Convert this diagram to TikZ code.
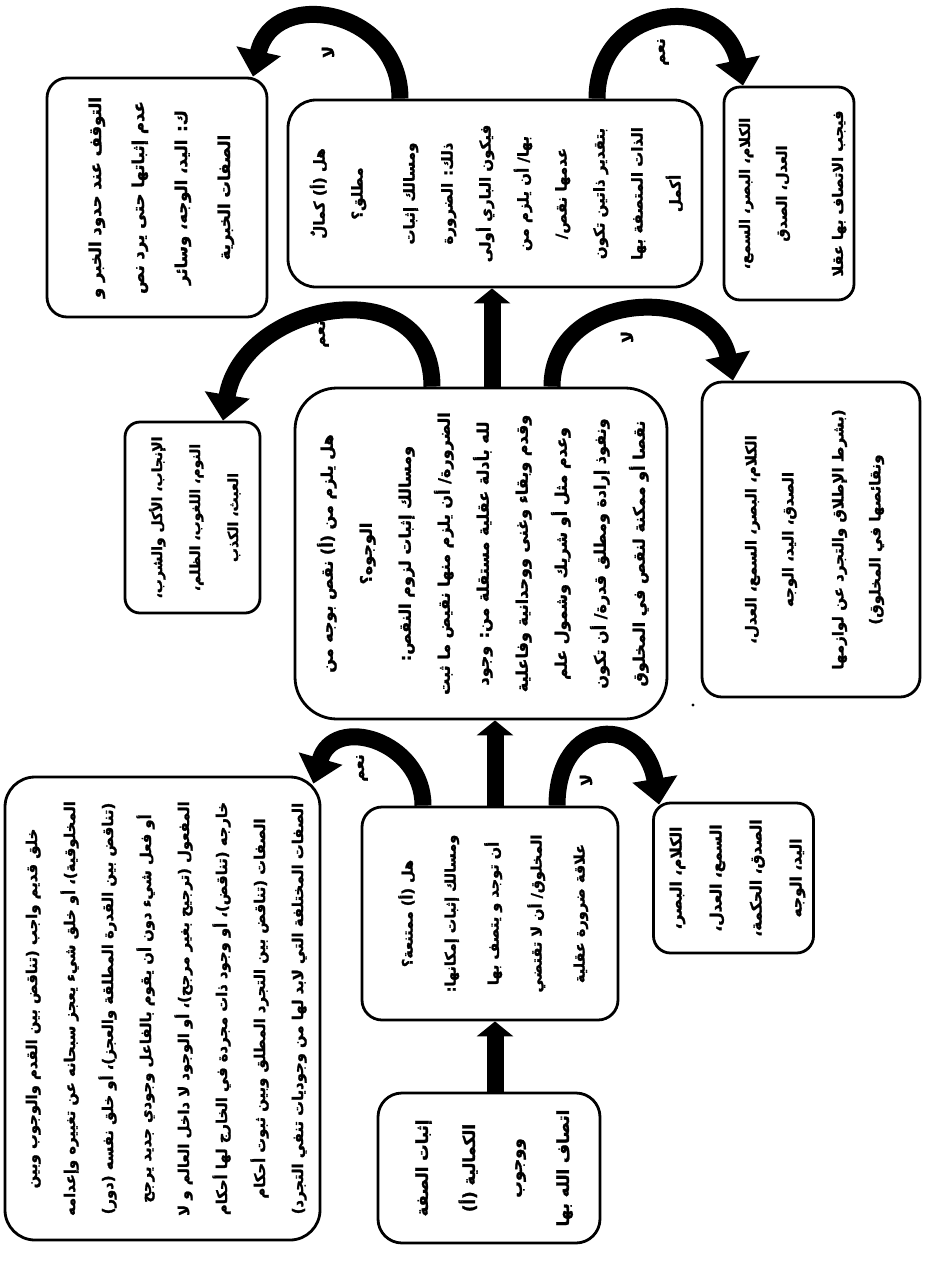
\documentclass[tikz,border=0pt]{standalone}
\usepackage{fontspec}
\usepackage{graphicx}
\usetikzlibrary{arrows.meta,calc}
\TeXXeTstate=1
\newfontfamily\arabicfont[Script=Arabic,BoldFeatures={FakeBold=1.6}]{DejaVu Sans}
% one right-to-left line
\newcommand\AR[1]{\beginR #1\endR}
% rows of a box, set vertically (reading downwards); #1 size, #2 line spacing, #3 rows
\newcommand\vlines[3]{\rotatebox{90}{\fontsize{#1}{#2}\selectfont\begin{tabular}{@{}c@{}}#3\end{tabular}}}

\tikzset{
  box/.style={draw, line width=2.8pt, fill=white, inner sep=0pt, rounded corners=#1,
              font=\arabicfont\bfseries},
  box/.default=20pt,
  flow/.style={line width=17pt, -{Triangle[width=36pt,length=15pt]}},
  turn/.style={line width=17pt, -{Triangle[width=44pt,length=26pt]}},
  lbl/.style={rotate=90, inner sep=0pt, font=\arabicfont\bfseries\fontsize{16}{18}\selectfont},
}

\begin{document}
\begin{tikzpicture}[x=1pt, y=-1pt]
\useasboundingbox (0,0) rectangle (928,1262);
\fill[white] (0,0) rectangle (928,1262);

% ---- first question: perfect absolutely?
\node[box=28pt, minimum width=414pt, minimum height=187pt] (A) at (495,193.5)
  {\vlines{15}{38pt}{%
   \AR{هل (أ) كمالٌ}\\
   \AR{مطلق؟}\\[14pt]
   \AR{ومسالك إثبات}\\
   \AR{ذلك: الضرورة}\\
   \AR{فيكون الباري أولى}\\
   \AR{بها/ أن يلزم من}\\
   \AR{عدمها نقص/}\\
   \AR{بتقدير ذاتين تكون}\\
   \AR{الذات المتصفة بها}\\
   \AR{أكمل}}};

\node[box=20pt, minimum width=220pt, minimum height=239pt] (B) at (157,197.5)
  {\vlines{16.5}{43pt}{%
   \AR{التوقف عند حدود الخبر و}\\
   \AR{عدم إثباتها حتى يرد نص}\\
   \AR{ك: اليد، الوجه، وسائر}\\
   \AR{الصفات الخبرية}}};

\node[box=16pt, minimum width=128pt, minimum height=213pt] (C) at (789,193.5)
  {\vlines{14.5}{37pt}{%
   \AR{الكلام، البصر، السمع،}\\
   \AR{العدل، الصدق}\\[19pt]
   \AR{فيجب الاتصاف بها عقلا}}};

% ---- second question: does it entail a deficiency?
\node[box=42pt, minimum width=372pt, minimum height=331pt] (D) at (481,553.5)
  {\vlines{16}{39pt}{%
   \AR{هل يلزم من (أ) نقص بوجه من}\\
   \AR{الوجوه؟}\\
   \AR{ومسالك إثبات لزوم النقص:}\\
   \AR{الضرورة/ أن يلزم منها نقيض ما ثبت}\\
   \AR{لله بأدلة عقلية مستقلة من: وجود}\\
   \AR{وقدم وبقاء وغنى ووحدانية وفاعلية}\\
   \AR{وعدم مثل أو شريك وشمول علم}\\
   \AR{ونفوذ إرادة ومطلق قدرة/ أن تكون}\\
   \AR{نقصا أو ممكنة لنقص في المخلوق}}};

\node[box=15pt, minimum width=135pt, minimum height=191pt] (E) at (192.5,517.5)
  {\vlines{14}{38pt}{%
   \AR{الإنجاب، الأكل والشرب،}\\
   \AR{النوم، اللغوب، الظلم،}\\
   \AR{العبث، الكذب}}};

\node[box=20pt, minimum width=218pt, minimum height=315pt] (F) at (811,539.5)
  {\vlines{15}{37pt}{%
   \AR{الكلام، البصر، السمع، العدل،}\\
   \AR{الصدق، اليد، الوجه}\\[13pt]
   \AR{(بشرط الإطلاق والتجرد عن لوازمها}\\
   \AR{ونقائصها في المخلوق)}}};

% ---- third question: is it impossible?
\node[box=20pt, minimum width=256pt, minimum height=213pt] (G) at (490,913.5)
  {\vlines{14.5}{43pt}{%
   \AR{هل (أ) ممتنعة؟}\\
   \AR{ومسالك إثبات إمكانها:}\\
   \AR{أن توجد و يتصف بها}\\
   \AR{المخلوق/ أن لا تقتضي}\\
   \AR{علاقة ضرورة عقلية}}};

\node[box=17pt, minimum width=157pt, minimum height=150pt] (H) at (733.5,878)
  {\vlines{15.5}{40pt}{%
   \AR{الكلام، البصر،}\\
   \AR{السمع، العدل،}\\
   \AR{الصدق، الحكمة،}\\
   \AR{اليد، الوجه}}};

\node[box=30pt, minimum width=315pt, minimum height=463pt] (I) at (162.5,1008.5)
  {\vlines{14.8}{38pt}{%
   \AR{خلق قديم واجب (تناقض بين القدم والوجوب وبين}\\
   \AR{المخلوقية)، أو خلق شيء يعجز سبحانه عن تغييره وإعدامه}\\
   \AR{(تناقض بين القدرة المطلقة والعجز)، أو خلق نفسه (دور)}\\
   \AR{أو فعل شيء دون أن يقوم بالفاعل وجودي جديد يرجح}\\
   \AR{المفعول (ترجيح بغير مرجح)، أو الوجود لا داخل العالم و لا}\\
   \AR{خارجه (تناقض)، أو وجود ذات مجردة في الخارج لها أحكام}\\
   \AR{الصفات (تناقض بين التجرد المطلق وبين ثبوت أحكام}\\
   \AR{الصفات المختلفة التي لابد لها من وجوديات تنفي التجرد)}}};

% ---- starting point
\node[box=24pt, minimum width=222pt, minimum height=150pt] (J) at (489,1168)
  {\vlines{16.5}{47pt}{%
   \AR{إثبات الصفة}\\
   \AR{الكمالية (أ)}\\
   \AR{ووجوب}\\
   \AR{اتصاف الله بها}}};

% ---- main line
\draw[flow] ([xshift=6pt]J.north) -- ([xshift=5pt]G.south);
\draw[flow] ([xshift=5pt]G.north) -- ([xshift=14pt]D.south);
\draw[flow] ([xshift=11pt]D.north) -- ([xshift=-3pt]A.south);

% ---- yes / no branches
\draw[turn] ([xshift=-95pt]A.north) .. controls +(0,-90) and +(20,-90) .. ([xshift=96pt]B.north);
\draw[turn] ([xshift=102pt]A.north) .. controls +(0,-95) and +(-20,-95) .. ([xshift=-46pt]C.north);
\draw[turn] ([xshift=-49pt]D.north) .. controls +(0,-120) and +(20,-120) .. ([xshift=30.5pt]E.north);
\draw[turn] ([xshift=71pt]D.north) .. controls +(0,-97) and +(-20,-97) .. ([xshift=-78pt]F.north);
\draw[turn] ([xshift=-67pt]G.north) .. controls +(0,-65) and +(20,-70) .. ([shift={(-8pt,-8pt)}]I.north east);
\draw[turn] ([xshift=67pt]G.north) .. controls +(0,-90) and +(-15,-90) .. ([shift={(7pt,-3pt)}]H.north west);

\node[lbl] (a-no)  at (328,52)  {\AR{لا}};
\node[lbl] (a-yes) at (663,52)  {\AR{نعم}};
\node[lbl] (d-yes) at (323,334) {\AR{نعم}};
\node[lbl] (d-no)  at (627,337) {\AR{لا}};
\node[lbl] (g-yes) at (362,768) {\AR{نعم}};
\node[lbl] (g-no)  at (586,780) {\AR{لا}};

\fill (693,705) circle (1.6pt);
\end{tikzpicture}
\end{document}
